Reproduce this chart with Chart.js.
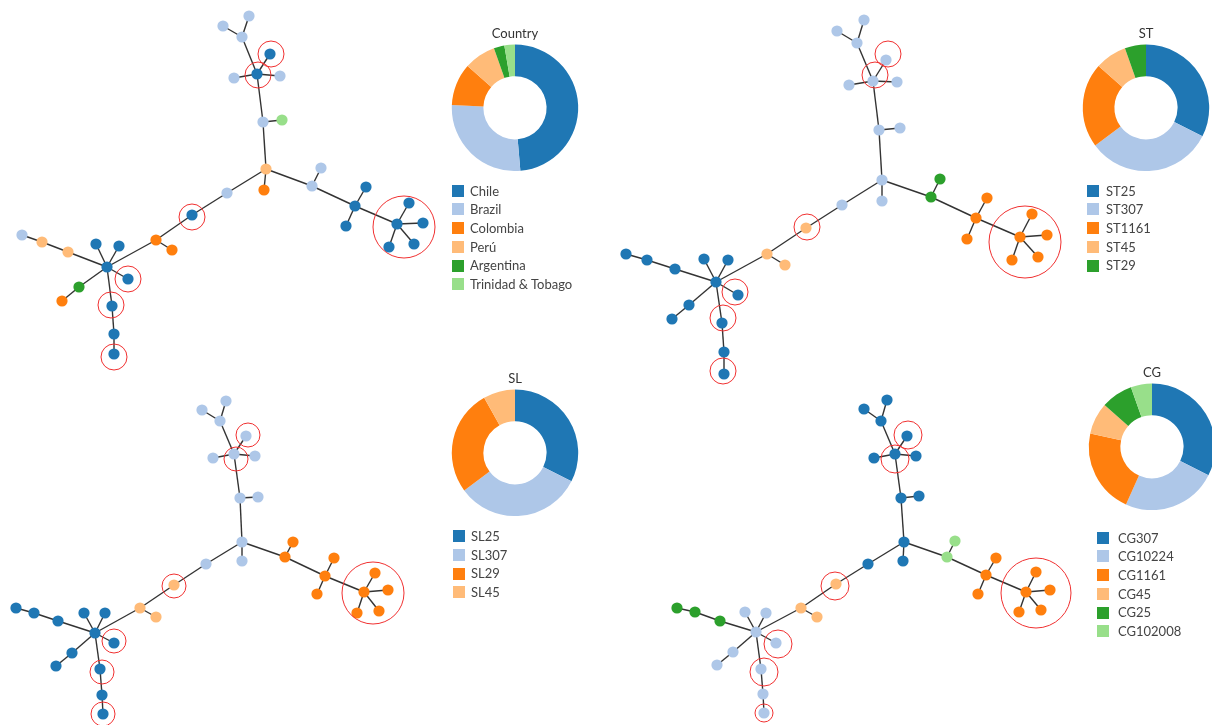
<!DOCTYPE html>
<html>
<head>
<meta charset="utf-8">
<script src="https://cdn.jsdelivr.net/npm/chart.js@4.4.0/dist/chart.umd.min.js"></script>
<style>
html,body{margin:0;padding:0;width:1212px;height:725px;overflow:hidden;background:#fff;}
body{position:relative;font-family:Lato,"Open Sans","DejaVu Sans",sans-serif;}
#net{position:absolute;left:0;top:0;}
.donut{position:absolute;}
.legend{position:absolute;font-size:13px;color:#444;}
.legend .row{position:relative;height:18.7px;}
.legend .sw{position:absolute;left:0;top:3.3px;width:12px;height:12px;}
.legend .lb{position:absolute;top:0;line-height:18.7px;white-space:nowrap;}
</style>
</head>
<body>
<canvas id="net" width="1212" height="725"></canvas>
<canvas id="d0" class="donut" width="140" height="154" style="left:445px;top:17px"></canvas>
<canvas id="d1" class="donut" width="140" height="154" style="left:1076px;top:17px"></canvas>
<canvas id="d2" class="donut" width="140" height="154" style="left:445px;top:362px"></canvas>
<canvas id="d3" class="donut" width="140" height="154" style="left:1082px;top:356px"></canvas>
<div id="l0" class="legend"></div>
<div id="l1" class="legend"></div>
<div id="l2" class="legend"></div>
<div id="l3" class="legend"></div>
<script>
// ---------- DATA ----------
const palette = ['#1f77b4', '#aec7e8', '#ff7f0e', '#ffbb78', '#2ca02c', '#98df8a'];

// Shared minimum-spanning-tree edges (node indices)
const edgeFrom = [2,2,2,3,3,3,3,7,7,9,9,11,11,13,13,13,16,16,16,16,9,21,22,23,23,25,25,25,25,29,30,25,32,25,34,35];
const edgeTo   = [0,1,3,4,5,6,7,8,9,10,11,12,13,14,15,16,17,18,19,20,21,22,23,24,25,26,27,28,29,30,31,32,33,34,35,36];

// Panel 1: Country
const countryTitle = 'Country';
const countryLabels = ['Chile', 'Brazil', 'Colombia', 'Perú', 'Argentina', 'Trinidad & Tobago'];
const countryCounts = [18, 10, 4, 3, 1, 1];
const countryX = [249,223,242,257,270,234,280,263,282,266,264,312,321,355,366,346,397,409,423,414,389,227,192,156,172,107,96,119,128,112,114,114,79,62,68,42,22];
const countryY = [16,26,37,74,54,78,76,122,120,169,190,186,168,206,187,226,224,203,223,244,247,193,215,240,250,267,244,246,279,306,334,354,287,301,252,242,235];
const countryGroup = [1,1,1,0,0,1,1,1,5,3,2,1,1,0,0,0,0,0,0,0,0,1,0,2,2,0,0,0,0,0,0,0,4,2,3,3,1];
const countryHiX = [258,271,192,128,111,114,404];
const countryHiY = [75,54,217,279,305,357,227];

// Panel 2: ST
const stTitle = 'ST';
const stLabels = ['ST25', 'ST307', 'ST1161', 'ST45', 'ST29'];
const stCounts = [12, 12, 8, 3, 2];
const stX = [864,837,857,873,886,849,897,879,900,882,882,931,940,976,987,967,1020,1032,1047,1038,1012,842,806,767,785,716,704,728,738,722,724,724,689,672,675,647,626];
const stY = [20,31,43,81,60,85,82,130,128,180,201,197,179,218,198,239,237,214,235,257,260,205,228,254,265,282,259,260,295,323,352,374,305,319,269,260,254];
const stGroup = [1,1,1,1,1,1,1,1,1,1,1,4,4,2,2,2,2,2,2,2,2,1,3,3,3,0,0,0,0,0,0,0,0,0,0,0,0];
const stHiX = [875,888,807,735,723,723,1025];
const stHiY = [75,54,227,292,318,371,242];

// Panel 3: SL
const slTitle = 'SL';
const slLabels = ['SL25', 'SL307', 'SL29', 'SL45'];
const slCounts = [12, 12, 10, 3];
const slX = [226,202,220,234,246,213,255,240,258,242,242,285,293,325,334,317,364,375,388,379,357,206,174,140,156,95,84,105,114,100,102,103,72,56,58,34,16];
const slY = [401,410,421,454,436,458,456,498,497,542,561,557,542,576,558,594,592,573,590,611,613,564,585,608,617,633,613,613,643,669,695,714,653,666,621,613,608];
const slGroup = [1,1,1,1,1,1,1,1,1,1,1,2,2,2,2,2,2,2,2,2,2,1,3,3,3,0,0,0,0,0,0,0,0,0,0,0,0];
const slHiX = [236,248,174,114,102,103,373];
const slHiY = [459,435,586,641,672,714,593];

// Panel 4: CG
const cgTitle = 'CG';
const cgLabels = ['CG307', 'CG10224', 'CG1161', 'CG45', 'CG25', 'CG102008'];
const cgCounts = [12, 9, 8, 3, 3, 2];
const cgX = [887,864,881,895,907,874,916,901,919,904,903,947,955,986,996,978,1026,1036,1050,1041,1019,868,836,801,817,756,745,766,776,761,763,764,733,717,720,695,677];
const cgY = [400,409,421,454,436,458,456,498,496,542,561,557,541,575,558,594,592,572,590,610,612,564,584,608,617,632,612,613,643,669,694,713,652,665,621,612,608];
const cgGroup = [0,0,0,0,0,0,0,0,0,0,0,5,5,2,2,2,2,2,2,2,2,0,3,3,3,1,1,1,1,1,1,1,1,1,4,4,4];
const cgHiX = [895,908,835,778,764,764,1036];
const cgHiY = [459,435,586,644,672,713,593];

// ---------- STYLE ----------
const hiRadius = [
  [13,13,13,13,13,13,31],
  [13,13,13,13,13,13,36],
  [12,12,12,12,12,12,31],
  [14,14,14,14,14,9,35]
];
const nodeRadius = 5.6;
const edgeColor = '#333333';
const ringColor = '#f03030';

Chart.defaults.font.family = 'Lato, "Open Sans", "DejaVu Sans", sans-serif';

const panels = [
  {title: countryTitle, labels: countryLabels, counts: countryCounts, x: countryX, y: countryY, g: countryGroup, hx: countryHiX, hy: countryHiY},
  {title: stTitle, labels: stLabels, counts: stCounts, x: stX, y: stY, g: stGroup, hx: stHiX, hy: stHiY},
  {title: slTitle, labels: slLabels, counts: slCounts, x: slX, y: slY, g: slGroup, hx: slHiX, hy: slHiY},
  {title: cgTitle, labels: cgLabels, counts: cgCounts, x: cgX, y: cgY, g: cgGroup, hx: cgHiX, hy: cgHiY}
];

// ---------- NETWORK (one scatter chart) ----------
const netDatasets = [];
panels.forEach((p, pi) => {
  netDatasets.push({
    label: 'hi' + pi,
    data: p.hx.map((v, i) => ({x: v, y: p.hy[i]})),
    showLine: false,
    pointRadius: hiRadius[pi],
    pointHoverRadius: hiRadius[pi],
    pointBackgroundColor: 'rgba(0,0,0,0)',
    pointBorderColor: ringColor,
    pointBorderWidth: 1,
    order: 0
  });
  netDatasets.push({
    label: 'nodes' + pi,
    data: p.x.map((v, i) => ({x: v, y: p.y[i]})),
    showLine: false,
    pointRadius: nodeRadius,
    pointHoverRadius: nodeRadius,
    pointBackgroundColor: p.g.map(k => palette[k]),
    pointBorderWidth: 0,
    order: 1
  });
  edgeFrom.forEach((a, ei) => {
    const b = edgeTo[ei];
    netDatasets.push({
      label: 'e' + pi + '_' + ei,
      data: [{x: p.x[a], y: p.y[a]}, {x: p.x[b], y: p.y[b]}],
      showLine: true,
      borderColor: edgeColor,
      borderWidth: 1.4,
      pointRadius: 0,
      pointHoverRadius: 0,
      order: 2
    });
  });
});

new Chart(document.getElementById('net'), {
  type: 'scatter',
  data: {datasets: netDatasets},
  options: {
    responsive: false,
    animation: false,
    devicePixelRatio: 1,
    layout: {padding: 0, autoPadding: false},
    events: [],
    plugins: {legend: {display: false}, tooltip: {enabled: false}},
    scales: {
      x: {type: 'linear', min: 0, max: 1212, display: false},
      y: {type: 'linear', min: 0, max: 725, reverse: true, display: false}
    }
  }
});

// ---------- DONUTS ----------
panels.forEach((p, pi) => {
  new Chart(document.getElementById('d' + pi), {
    type: 'doughnut',
    data: {
      labels: p.labels,
      datasets: [{data: p.counts, backgroundColor: palette.slice(0, p.counts.length), borderWidth: 0}]
    },
    options: {
      responsive: false,
      animation: false,
      devicePixelRatio: 1,
      cutout: '50%',
      layout: {padding: 0},
      events: [],
      plugins: {
        legend: {display: false},
        tooltip: {enabled: false},
        title: {display: true, text: p.title, color: '#333', font: {size: 13, weight: 'normal'}, padding: {top: 9, bottom: 3}}
      }
    }
  });
});

// ---------- LEGENDS (HTML text) ----------
const legendPos = [
  {left: 452, top: 181.5, text: 18},
  {left: 1087, top: 181.5, text: 19},
  {left: 453, top: 527, text: 18},
  {left: 1097, top: 528.5, text: 21}
];
panels.forEach((p, pi) => {
  const el = document.getElementById('l' + pi);
  const pos = legendPos[pi];
  el.style.left = pos.left + 'px';
  el.style.top = pos.top + 'px';
  p.labels.forEach((lab, i) => {
    const row = document.createElement('div');
    row.className = 'row';
    const sw = document.createElement('span');
    sw.className = 'sw';
    sw.style.background = palette[i];
    const tx = document.createElement('span');
    tx.className = 'lb';
    tx.style.left = pos.text + 'px';
    tx.textContent = lab;
    row.appendChild(sw);
    row.appendChild(tx);
    el.appendChild(row);
  });
});
</script>
</body>
</html>
